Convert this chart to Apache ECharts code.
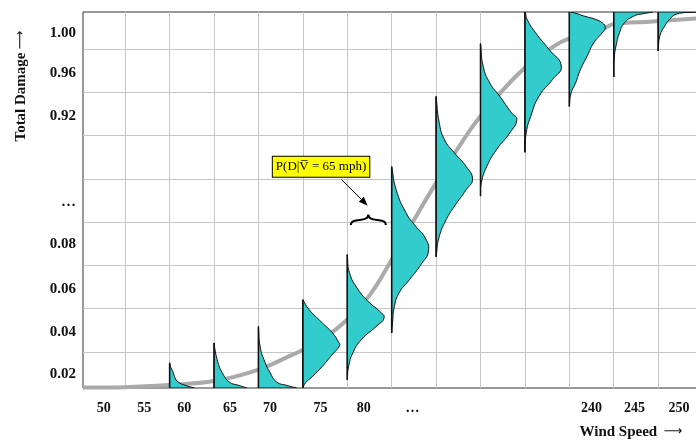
<!DOCTYPE html>
<html>
<head>
<meta charset="utf-8">
<title>Total Damage vs Wind Speed</title>
<script src="https://cdn.jsdelivr.net/npm/echarts@6.0.0/dist/echarts.min.js"></script>
<style>
  html, body { margin: 0; padding: 0; background: #fff; }
  #chart { width: 696px; height: 440px; }
</style>
</head>
<body>
<div id="chart"></div>
<script>
// x unit = one wind speed column, y unit = one damage row
const xLabels = ['50', '55', '60', '65', '70', '75', '80', '…', '240', '245', '250'];
const xLabelPos = [0.52, 1.43, 2.33, 3.36, 4.26, 5.40, 6.37, 7.47, 11.50, 12.47, 13.47];
const yLabels = ['0.02', '0.04', '0.06', '0.08', '…', '0.92', '0.96', '1.00'];
const yLabelPos = [0.48, 1.46, 2.45, 3.49, 4.47, 6.44, 7.45, 8.37];
const xGridLines = [1, 2, 3, 4, 5, 6, 7, 8, 9, 10, 11, 12, 13];
const yGridLines = [1, 2, 3, 4, 5, 6, 7, 8];

// mean total damage curve
const curveX = [0.05, 0.99, 1.98, 3.00, 3.99, 4.71, 5.02, 5.38, 5.99, 6.51, 6.96, 7.48, 8.02, 8.47, 8.99, 9.89, 10.64, 11.00, 11.81, 11.99, 12.87, 13.86];
const curveY = [0.18, 0.19, 0.24, 0.33, 0.59, 0.91, 1.06, 1.25, 1.74, 2.32, 3.06, 4.01, 4.94, 5.67, 6.43, 7.46, 8.05, 8.24, 8.49, 8.57, 8.63, 8.70];

// P(D|V) per column: [damage level, density]
const distBase = [2, 3, 4, 5, 6, 7, 8, 9, 10, 11, 12, 13];
const dist60 = [[0.75, 0], [0.64, 0.03], [0.53, 0.08], [0.41, 0.12], [0.31, 0.19], [0.23, 0.36], [0.17, 0.56]];
const dist65 = [[1.21, 0], [1.01, 0.03], [0.83, 0.07], [0.66, 0.12], [0.53, 0.18], [0.31, 0.34], [0.23, 0.56], [0.17, 0.74]];
const dist70 = [[1.59, 0], [1.12, 0.04], [0.76, 0.15], [0.53, 0.26], [0.31, 0.41], [0.23, 0.64], [0.17, 0.86]];
const dist75 = [[2.21, 0], [1.98, 0.14], [1.68, 0.43], [1.45, 0.66], [1.22, 0.81], [1.15, 0.83], [0.94, 0.66], [0.66, 0.43], [0.43, 0.21], [0.29, 0.06], [0.17, 0]];
const dist80 = [[3.25, 0], [2.83, 0.05], [2.45, 0.24], [2.14, 0.50], [1.94, 0.73], [1.79, 0.83], [1.59, 0.65], [1.29, 0.32], [0.99, 0.13], [0.66, 0.03], [0.36, 0]];
const dist85 = [[5.28, 0], [4.75, 0.10], [4.22, 0.32], [3.89, 0.55], [3.66, 0.74], [3.34, 0.83], [3.02, 0.66], [2.67, 0.40], [2.37, 0.17], [2.05, 0.06], [1.68, 0.02], [1.44, 0]];
const dist90 = [[6.90, 0], [6.30, 0.07], [5.90, 0.19], [5.60, 0.41], [5.28, 0.68], [4.99, 0.82], [4.75, 0.68], [4.36, 0.41], [4.06, 0.23], [3.66, 0.07], [3.20, 0]];
const dist95 = [[8.12, 0], [7.60, 0.06], [7.21, 0.21], [6.91, 0.43], [6.52, 0.70], [6.37, 0.82], [6.06, 0.66], [5.67, 0.36], [5.28, 0.14], [4.91, 0.02], [4.60, 0]];
const dist100 = [[8.85, 0.01], [8.68, 0.05], [8.37, 0.24], [7.99, 0.54], [7.60, 0.82], [7.29, 0.62], [6.91, 0.32], [6.44, 0.13], [6.06, 0.03], [5.61, 0]];
const dist240 = [[8.85, 0.02], [8.82, 0.15], [8.76, 0.32], [8.68, 0.59], [8.60, 0.74], [8.49, 0.81], [8.37, 0.74], [8.14, 0.55], [7.83, 0.40], [7.52, 0.25], [7.21, 0.14], [6.98, 0.04], [6.67, 0]];
const dist245 = [[8.85, 0.88], [8.80, 0.61], [8.76, 0.46], [8.60, 0.24], [8.37, 0.13], [8.06, 0.05], [7.76, 0.01], [7.35, 0]];
const dist250 = [[8.85, 0.86], [8.80, 0.41], [8.68, 0.26], [8.53, 0.15], [8.30, 0.04], [7.95, 0]];
const distList = [dist60, dist65, dist70, dist75, dist80, dist85, dist90, dist95, dist100, dist240, dist245, dist250];

// annotation
const noteText = 'P(D|V\u0305 = 65 mph)';
const notePos = [5.41, 5.28];
const arrowFrom = [5.87, 4.98];
const arrowTo = [6.46, 4.38];
const braceSpan = [6.08, 6.87];
const braceLow = 3.93;
const braceHigh = 4.17;

const serif = '"Liberation Serif", "Times New Roman", serif';
const chart = echarts.init(document.getElementById('chart'));

function renderDist(params, api) {
  const i = params.dataIndex;
  const base = distBase[i];
  const pts = distList[i];
  const top = api.coord([base, pts[0][0]]);
  const bottom = api.coord([base, pts[pts.length - 1][0]]);
  const outline = pts.map(p => api.coord([base + p[1], p[0]]));
  const first = outline[0];
  const last = outline[outline.length - 1];
  // doubled corner points keep the smoothed outline sharp at the base line
  const poly = [top, top, first].concat(outline, [last, bottom, bottom]);
  return {
    type: 'group',
    children: [
      {
        type: 'polygon',
        shape: { points: poly, smooth: 0.5 },
        style: { fill: '#33cccc', stroke: '#111', lineWidth: 1 }
      },
      {
        type: 'line',
        shape: { x1: top[0], y1: top[1], x2: bottom[0], y2: bottom[1] },
        style: { stroke: '#111', lineWidth: 1.5 }
      }
    ]
  };
}

function renderNote(params, api) {
  const box = api.coord(notePos);
  const a0 = api.coord(arrowFrom);
  const a1 = api.coord(arrowTo);
  const ang = Math.atan2(a1[1] - a0[1], a1[0] - a0[0]);
  const len = 9, half = 3.5;
  const bx = a1[0] - Math.cos(ang) * len;
  const by = a1[1] - Math.sin(ang) * len;
  const head = [
    a1,
    [bx + Math.sin(ang) * half, by - Math.cos(ang) * half],
    [bx - Math.sin(ang) * half, by + Math.cos(ang) * half]
  ];
  const bl = api.coord([braceSpan[0], braceLow]);
  const br = api.coord([braceSpan[1], braceLow]);
  const tip = api.coord([(braceSpan[0] + braceSpan[1]) / 2, braceHigh]);
  const yMid = (bl[1] + tip[1]) / 2;
  const braceStyle = { stroke: '#000', lineWidth: 2, fill: null };
  return {
    type: 'group',
    children: [
      {
        type: 'line',
        shape: { x1: a0[0], y1: a0[1], x2: bx, y2: by },
        style: { stroke: '#000', lineWidth: 1 }
      },
      { type: 'polygon', shape: { points: head }, style: { fill: '#000' } },
      {
        type: 'bezierCurve',
        shape: { x1: bl[0], y1: bl[1], cpx1: bl[0], cpy1: yMid - 3, cpx2: tip[0], cpy2: yMid + 3, x2: tip[0], y2: tip[1] },
        style: braceStyle
      },
      {
        type: 'bezierCurve',
        shape: { x1: br[0], y1: br[1], cpx1: br[0], cpy1: yMid - 3, cpx2: tip[0], cpy2: yMid + 3, x2: tip[0], y2: tip[1] },
        style: braceStyle
      },
      {
        type: 'text',
        x: box[0],
        y: box[1],
        style: {
          text: noteText,
          font: '13px ' + serif,
          fill: '#000',
          align: 'center',
          verticalAlign: 'middle',
          backgroundColor: '#ffff00',
          borderColor: '#000',
          borderWidth: 1,
          padding: [4, 3, 3, 3]
        }
      }
    ]
  };
}

const titleRich = {
  t: { font: 'bold 15px ' + serif, fill: '#111' },
  a: { font: '13px "DejaVu Sans"', fill: '#111' }
};

const option = {
  animation: false,
  backgroundColor: '#fff',
  grid: {
    left: 83,
    right: -3,
    top: 12,
    bottom: 52,
    show: true,
    borderColor: '#333',
    borderWidth: 1,
    outerBoundsMode: 'none'
  },
  xAxis: {
    type: 'value',
    min: 0.05,
    max: 13.92,
    axisLine: { show: false },
    axisTick: { show: false, customValues: xGridLines },
    splitLine: { show: true, lineStyle: { color: '#c6c6c6', width: 1 } },
    axisLabel: {
      customValues: xLabelPos,
      formatter: v => xLabels[xLabelPos.indexOf(v)],
      margin: 13,
      color: '#111',
      fontFamily: serif,
      fontWeight: 'bold',
      fontSize: 14
    }
  },
  yAxis: {
    type: 'value',
    min: 0.17,
    max: 8.85,
    axisLine: { show: false },
    axisTick: { show: false, customValues: yGridLines },
    splitLine: { show: true, lineStyle: { color: '#c6c6c6', width: 1 } },
    axisLabel: {
      customValues: yLabelPos,
      formatter: v => yLabels[yLabelPos.indexOf(v)],
      margin: 7,
      color: '#111',
      fontFamily: serif,
      fontWeight: 'bold',
      fontSize: 15
    }
  },
  graphic: [
    {
      type: 'text',
      x: 21,
      y: 86,
      rotation: Math.PI / 2,
      style: {
        text: '{t|Total Damage} {a|⟶}',
        rich: titleRich,
        align: 'center',
        verticalAlign: 'middle'
      }
    },
    {
      type: 'text',
      x: 631,
      y: 432,
      style: {
        text: '{t|Wind Speed}  {a|⟶}',
        rich: titleRich,
        align: 'center',
        verticalAlign: 'middle'
      }
    }
  ],
  series: [
    {
      name: 'Total Damage',
      type: 'line',
      smooth: 0.4,
      symbol: 'none',
      lineStyle: { color: '#aaaaaa', width: 4 },
      data: curveX.map((x, i) => [x, curveY[i]]),
      z: 2
    },
    {
      name: 'P(D|V)',
      type: 'custom',
      renderItem: renderDist,
      data: distBase.map(b => [b]),
      clip: true,
      z: 3
    },
    {
      name: 'note',
      type: 'custom',
      renderItem: renderNote,
      data: [[notePos[0], notePos[1]]],
      z: 4
    }
  ]
};

chart.setOption(option);
</script>
</body>
</html>
